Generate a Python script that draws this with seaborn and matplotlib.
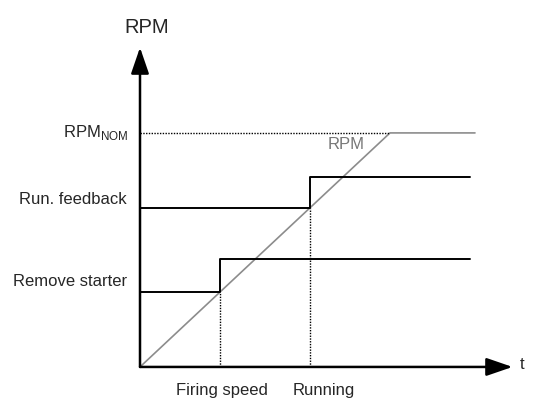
import seaborn as sns
import pandas as pd
import matplotlib.pyplot as plt

# time axis in arbitrary units, RPM in % of nominal
rpm_t = [0, 100, 134]
rpm_v = [0, 100, 100]
starter_t = [0, 32, 132]
starter_v = [32, 46, 46]
feedback_t = [0, 68, 132]
feedback_v = [68, 81, 81]
firing_t = 32
running_t = 68
nom_level = 100

sns.set_theme(style="white")
plt.rcParams['font.family'] = ['Liberation Sans', 'DejaVu Sans']

fig = plt.figure(figsize=(5.33, 3.99), dpi=100)
ax = fig.add_axes([0, 0, 1, 1])
ax.set_xlim(-56, 157.2)
ax.set_ylim(-13.7, 156.8)
ax.axis("off")

rpm = pd.DataFrame({"t": rpm_t, "v": rpm_v})
starter = pd.DataFrame({"t": starter_t, "v": starter_v})
feedback = pd.DataFrame({"t": feedback_t, "v": feedback_v})

sns.lineplot(data=rpm, x="t", y="v", color="#8c8c8c", lw=1.2, ax=ax)
sns.lineplot(data=starter, x="t", y="v", color="black", lw=1.4,
             drawstyle="steps-post", ax=ax)
sns.lineplot(data=feedback, x="t", y="v", color="black", lw=1.4,
             drawstyle="steps-post", ax=ax)

# dotted guides
ax.hlines(nom_level, 0, rpm_t[1], colors="black", lw=1, linestyles=(0, (1, 1)))
ax.vlines([firing_t, running_t], 0, [starter_v[0], feedback_v[0]],
          colors="black", lw=1, linestyles=(0, (1, 1)))

# axes with arrows
arrow = dict(arrowstyle="-|>,head_length=1.6,head_width=0.55", color="black",
             lw=1.8, mutation_scale=10, shrinkA=0, shrinkB=0)
ax.annotate("", xy=(149, 0), xytext=(0, 0), arrowprops=arrow)
ax.annotate("", xy=(0, 136.5), xytext=(0, 0), arrowprops=arrow)

ax.text(2.8, 145, "RPM", fontsize=14.5, ha="center", va="center")
ax.text(152, 1, "t", fontsize=12, ha="left", va="center")
ax.text(-4.8, nom_level, r"RPM$_{\mathregular{NOM}}$", fontsize=12, ha="right", va="center")
ax.text(-5.2, 71.5, "Run. feedback", fontsize=12, ha="right", va="center")
ax.text(-5.2, 36.3, "Remove starter", fontsize=12, ha="right", va="center")
ax.text(82.4, 94.9, "RPM", fontsize=12, color="#777777", ha="center", va="center")
ax.text(32.8, -10, "Firing speed", fontsize=12, ha="center", va="center")
ax.text(73.6, -10, "Running", fontsize=12, ha="center", va="center")

plt.savefig("out.png", dpi=100)
